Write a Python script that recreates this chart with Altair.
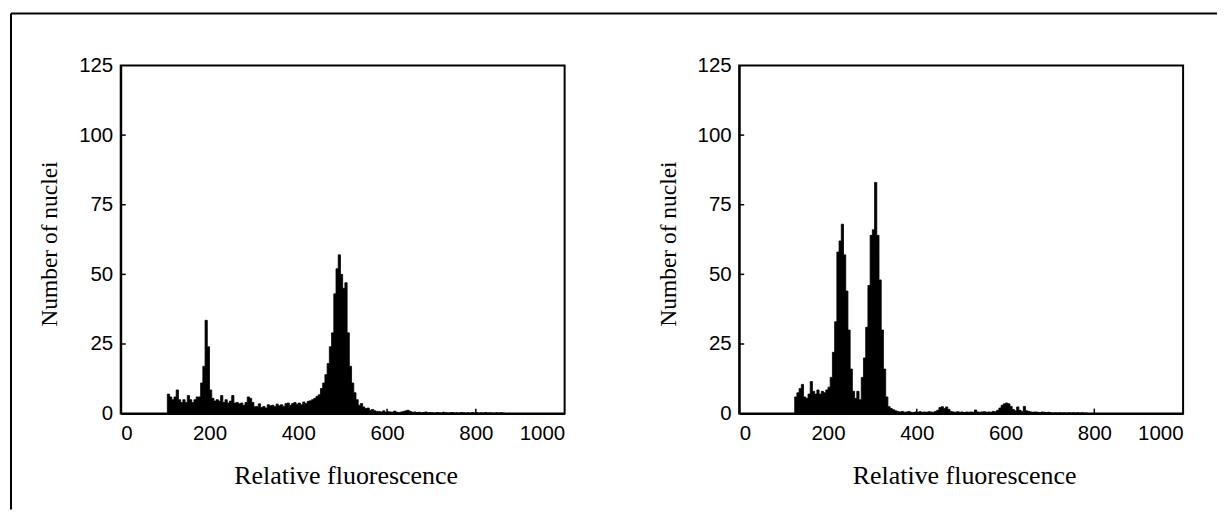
import altair as alt
import pandas as pd

# Histogram bins (width 5 channel units), counts
bin_width = 5
x_ticks = [0, 200, 400, 600, 800, 1000]
y_ticks = [0, 25, 50, 75, 100, 125]
x_inner_ticks = [200, 400, 600, 800]
y_inner_ticks = [25, 50, 75, 100]

left_start = 105
left_counts = [7, 6, 5, 6, 8.5, 5, 4, 5, 4, 6.5, 5, 4, 5, 6, 6, 11, 17, 33.5, 24, 8.5,
               5.5, 4.5, 5, 4.5, 6.5, 4, 5, 3.8, 4.5, 6.5, 3.8, 4, 3.5, 3.8, 3, 4, 6, 5.5, 4, 2.5,
               2.6, 3.5, 2.2, 2.6, 2, 3.2, 2.8, 3, 2.5, 3.4, 2.8, 3.2, 2.6, 3.6, 3.8, 3, 3.6, 4, 3.4, 3.8,
               3.2, 4.2, 3.6, 4.4, 4.6, 5, 5.5, 6.2, 6.8, 9, 11, 14, 18, 24, 29, 43, 52, 57, 50, 45,
               47, 29, 17, 11, 7.5, 5, 3, 3.6, 2.4, 1.8, 2, 1.2, 1.5, 1, 0.8, 0.8, 0.6, 1, 0.5, 0.7,
               0.6, 0.5, 0.9, 0.5, 0.4, 0.6, 0.8, 1.0, 1.2, 0.8, 0.5, 0.6, 0.4, 0.5, 0.3, 0.4, 0.6, 0.3, 0.4,
               0.3, 0.2, 0.4, 0.3, 0.2, 0.5, 0.3, 0.2, 0.3, 0.4, 0.2, 0.3, 0.2, 0.4, 0.3, 0.2, 0.3,
               0.2, 0.4, 0.2, 0.3, 0.2, 0.3, 0.2, 0.4, 0.2, 0.3, 0.2, 0.2, 0.3, 0.2, 0.3, 0.2]

right_start = 125
right_counts = [6, 7.5, 9, 10.5, 6, 5.5, 7, 11.5, 8, 7, 8.5, 7, 8, 7.5, 8.5, 9.5, 13, 22, 33, 58,
                62, 68, 57, 44, 30, 16, 8, 5.5, 8, 5, 13, 20, 31, 46, 64, 66, 83, 64, 48, 30,
                16, 6, 2.5, 1.8, 1.4, 1, 0.8, 0.6, 0.8, 0.5, 0.6, 0.8, 0.5, 0.4, 0.6, 0.5, 0.7, 0.5, 0.6, 0.5,
                0.7, 0.6, 0.5, 0.8, 1.2, 2.2, 2.5, 1.8, 2.4, 1.5, 0.8, 0.6, 0.5, 0.7, 0.5, 0.6, 0.4, 0.6, 0.5, 0.6,
                0.5, 1.3, 0.6, 0.5, 0.6, 0.7, 0.5, 0.6, 0.5, 0.8, 0.7, 1.2, 2, 3, 3.5, 3.8, 3.5, 2.6, 1.5, 1,
                2.4, 1.2, 0.8, 2.6, 1, 0.8, 0.6, 0.5, 0.6, 0.5, 0.4, 0.6, 0.5, 0.4, 0.5, 0.3, 0.2, 0.3, 0.2, 0.3,
                0.2, 0.3, 0.2, 0.3, 0.2, 0.3, 0.2, 0.3, 0.2, 0.3, 0.2, 0.2]

x_title = "Relative fluorescence"
y_title = "Number of nuclei"

W, H = 445, 349


def x_enc():
    return alt.X("x:Q", scale=alt.Scale(domain=[0, 1000], nice=False),
                 axis=alt.Axis(values=x_ticks, format="d", title=x_title,
                               titleX=W / 2 + 3, titleY=62, titleFontSize=26))


def y_enc():
    return alt.Y("y:Q", scale=alt.Scale(domain=[0, 125], nice=False),
                 axis=alt.Axis(values=y_ticks, format="d", title=y_title,
                               titleX=-71, titleY=H / 2 + 4, titleFontSize=23.5))


def panel(start, counts, with_frame=False):
    xs = [start + i * bin_width for i in range(len(counts) + 1)]
    ys = list(counts) + [0]
    df = pd.DataFrame({"x": xs, "y": ys})
    area = alt.Chart(df).mark_area(
        interpolate="step-after", color="black", stroke="black", strokeWidth=0.8
    ).encode(x=x_enc(), y=y_enc())

    ytk = alt.Chart(pd.DataFrame({"y": y_inner_ticks})).mark_rule(
        color="black", strokeWidth=1.5
    ).encode(y=y_enc(), x=alt.value(0), x2=alt.value(5))
    xtk = alt.Chart(pd.DataFrame({"x": x_inner_ticks})).mark_rule(
        color="black", strokeWidth=1.5
    ).encode(x=x_enc(), y=alt.value(H), y2=alt.value(H - 5))

    layers = [area, ytk, xtk]
    if with_frame:
        one = pd.DataFrame({"k": [0]})
        left_line = alt.Chart(one).mark_rule(color="black", strokeWidth=2).encode(
            x=alt.value(-110), y=alt.value(-52), y2=alt.value(445))
        top_line = alt.Chart(one).mark_rule(color="black", strokeWidth=2).encode(
            x=alt.value(-110), x2=alt.value(1099), y=alt.value(-52))
        layers += [left_line, top_line]
    return alt.layer(*layers).properties(width=W, height=H)


chart = alt.hconcat(
    panel(left_start, left_counts, with_frame=True),
    panel(right_start, right_counts),
    spacing=175,
    bounds="flush",
).properties(
    padding={"left": 1, "top": 3, "right": 0, "bottom": 0}
).configure_view(
    stroke="black", strokeWidth=2
).configure_axis(
    grid=False,
    ticks=False,
    domainColor="black",
    domainWidth=2,
    labelFont="Liberation Sans",
    labelFontSize=20.5,
    labelColor="black",
    labelPadding=8,
    titleFont="Liberation Serif",
    titleFontWeight="normal",
    titleColor="black",
    titleBaseline="middle",
    titleAlign="center",
).configure_axisX(
    labelPadding=10,
).configure_axisY(
    titleAngle=-90,
)

chart.save("out.html", embed_options={"renderer": "svg", "actions": False})
